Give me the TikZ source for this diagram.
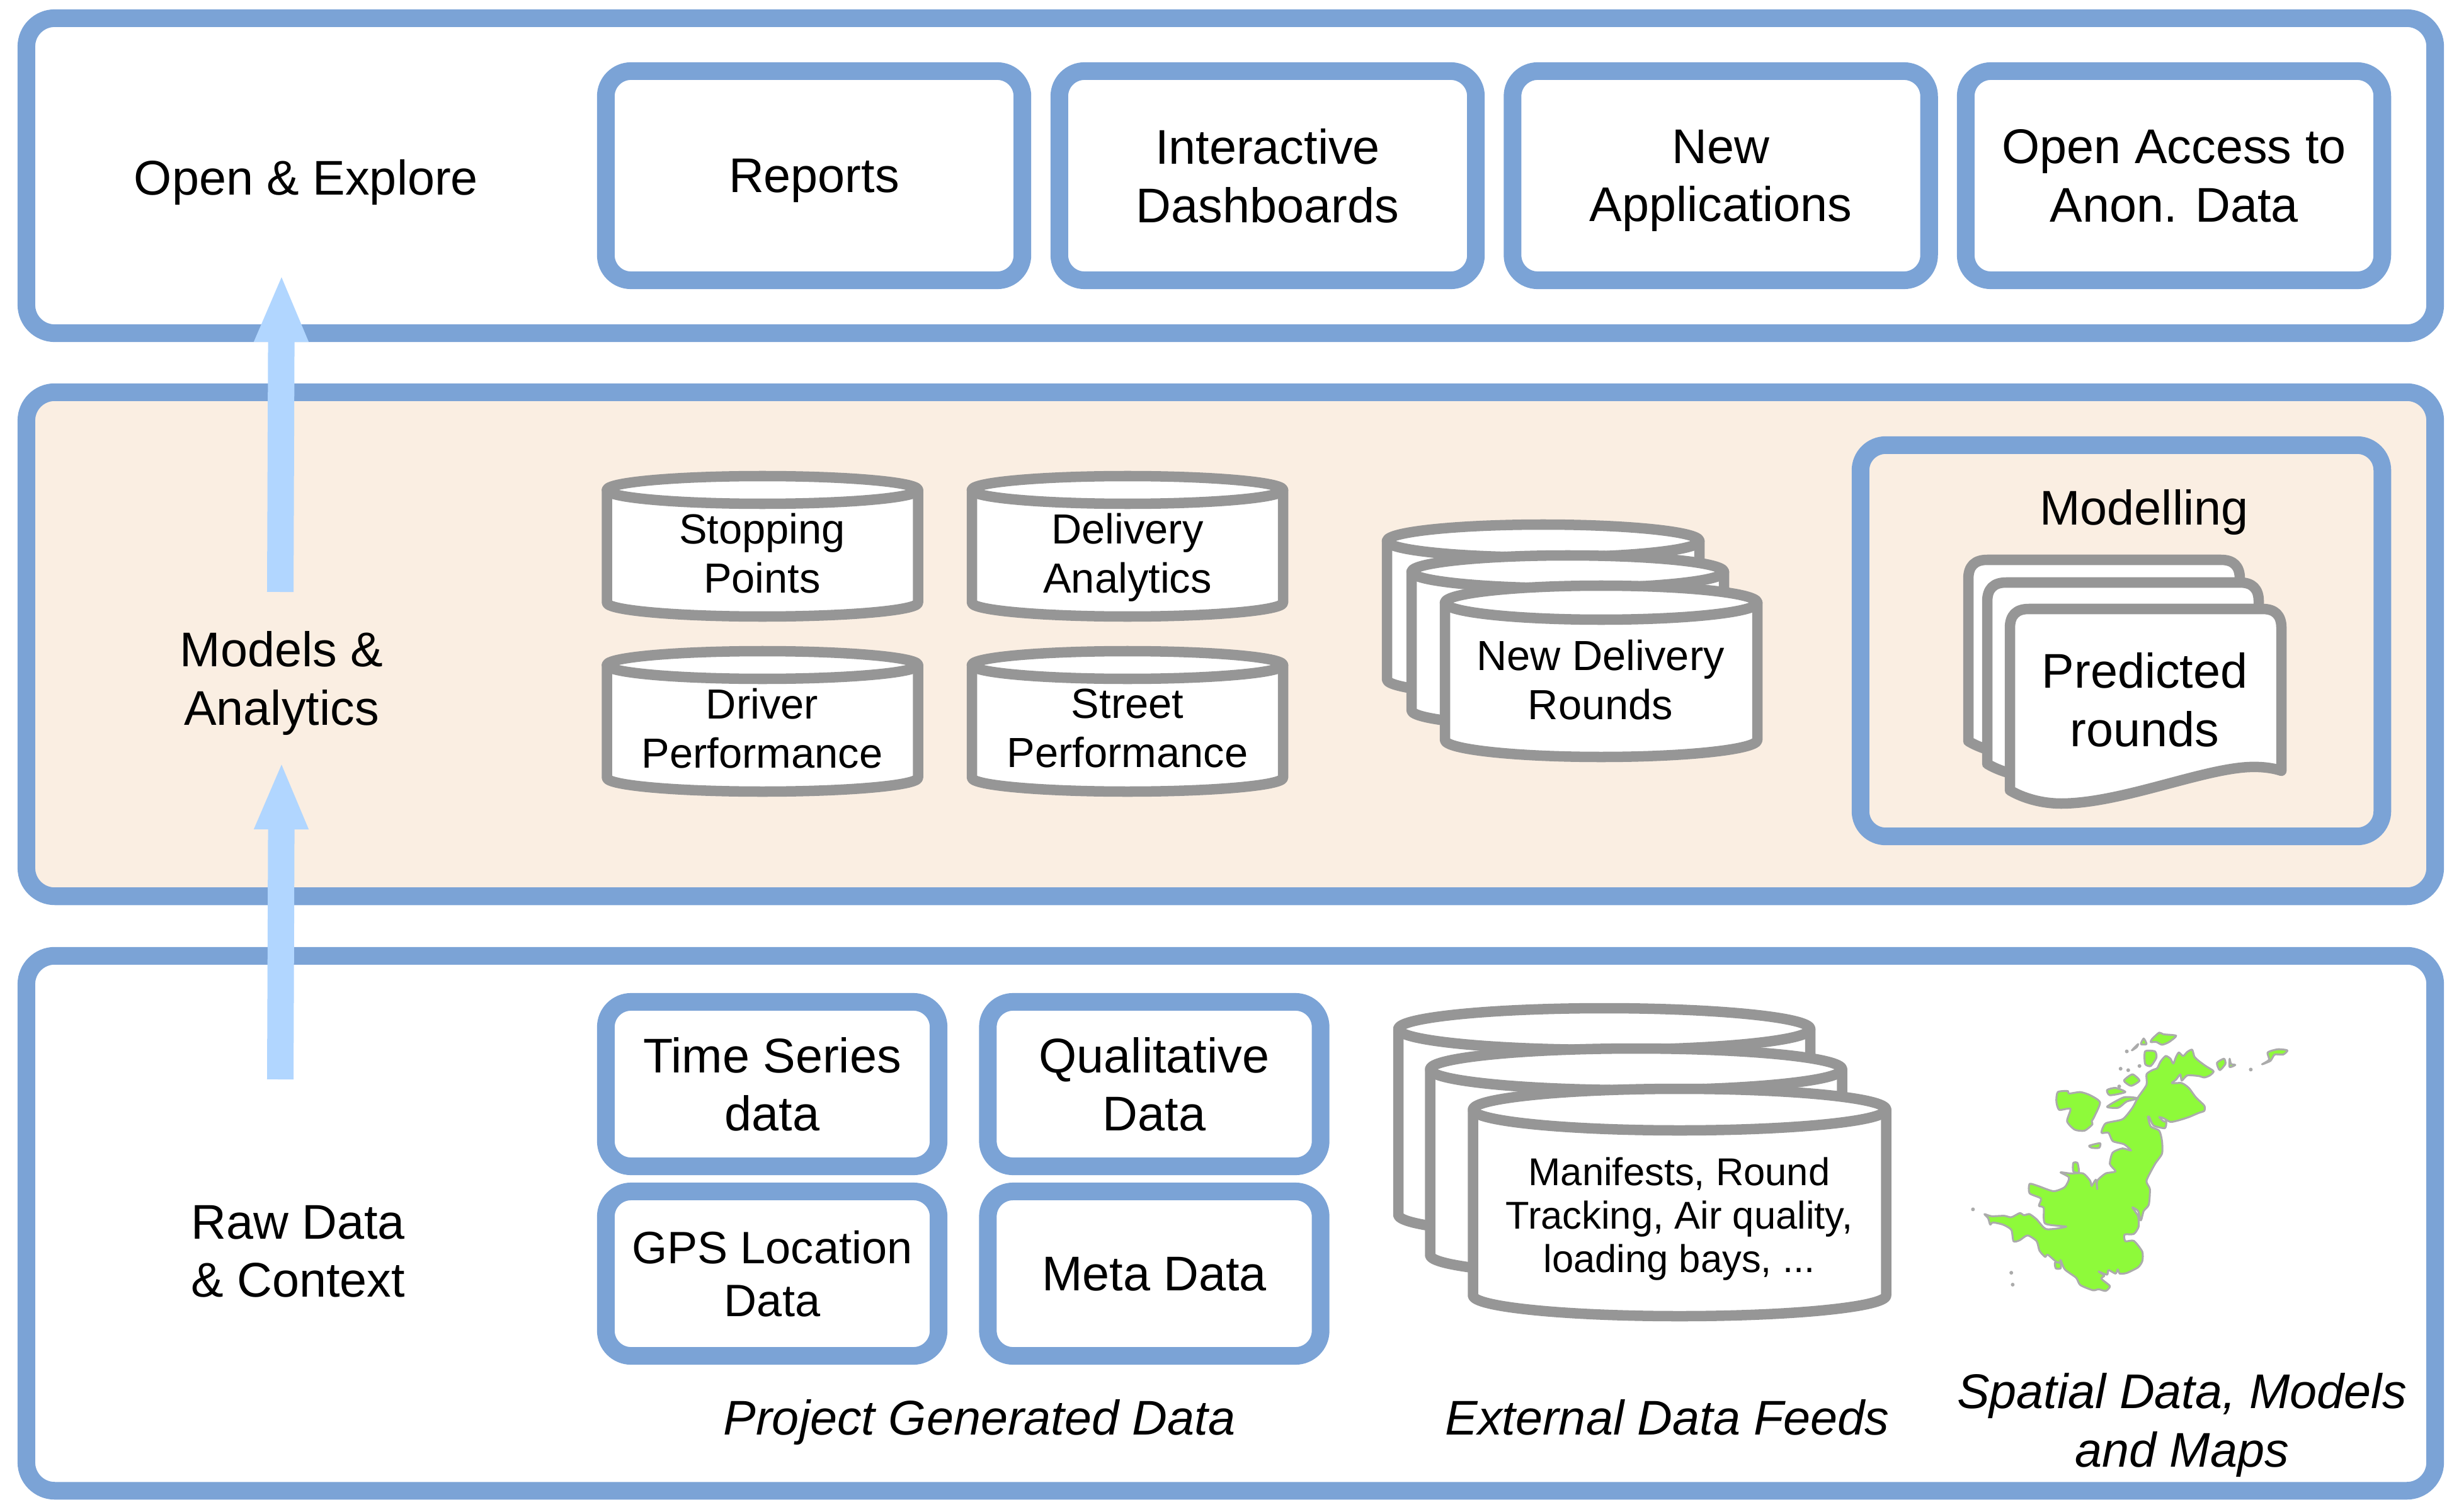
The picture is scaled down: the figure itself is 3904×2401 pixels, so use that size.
\documentclass[tikz,border=0pt]{standalone}
\usepackage{fontspec}
\usepackage{tikz}
\usetikzlibrary{arrows.meta}
\setmainfont{Liberation Sans}
\definecolor{panelblue}{HTML}{7BA3D6}
\definecolor{arrowblue}{HTML}{B1D6FF}
\definecolor{modelfill}{HTML}{FAEEE2}
\definecolor{drumgray}{HTML}{969696}
\definecolor{mapgreen}{HTML}{8EFA3A}
\definecolor{mapgray}{HTML}{ABABAB}
\tikzset{
  panel/.style={draw=panelblue, line width=0.28cm, rounded corners=0.45cm, inner sep=0pt},
  bigtext/.style={align=center, text depth=0pt, font=\fontsize{22}{26.2}\selectfont},
  box/.style={panel, fill=white, bigtext, rounded corners=0.4cm},
  smalltext/.style={align=center, text depth=0pt, font=\fontsize{19}{22.2}\selectfont},
  drumline/.style={draw=drumgray, fill=white, line width=0.165cm, line join=round},
  mapline/.style={draw=mapgray, fill=mapgreen, line width=0.03cm, line join=round},
  uparrow/.style={draw=arrowblue, line width=0.42cm, -{Triangle[width=0.78cm,length=1.08cm]}}
}
\begin{document}
\begin{tikzpicture}[x=0.01cm, y=-0.01cm]
  \newcommand{\Drum}[5]{%
    \begin{scope}[shift={(#1,#2)}]
      \draw[drumline] (-#3,#5) -- (-#3,{#4-#5}) arc[start angle=180, end angle=0, x radius=#3, y radius=#5] -- (#3,#5) -- cycle;
      \draw[drumline] (0,#5) ellipse [x radius=#3, y radius=#5];
    \end{scope}
  }
  \newcommand{\Sheet}[2]{%
    \draw[drumline, shift={(#1,#2)}] (0,288) -- (0,30) .. controls (0,10) and (10,0) .. (30,0) -- (401,0)
      .. controls (421,0) and (431,10) .. (431,30) -- (431,257)
      .. controls (410,250) and (385,250) .. (367,252)
      .. controls (290,260) and (170,309) .. (81,309)
      .. controls (50,309) and (20,300) .. (0,288) -- cycle;
  }
  \useasboundingbox (0,0) rectangle (3904,2401);

  % three layers
  \node[panel, minimum width=38.22cm, minimum height=5cm] (openpanel) at (1954,279) {};
  \node[panel, fill=modelfill, minimum width=38.22cm, minimum height=8cm] (modelpanel) at (1954,1023) {};
  \node[panel, minimum width=38.22cm, minimum height=8.49cm] (rawpanel) at (1954,1942.5) {};

  \node[bigtext] (openlabel) at (486,281) {Open \& Explore};
  \node[bigtext] (modellabel) at (447,1077) {Models \&\\Analytics};
  \node[bigtext] (rawlabel) at (473,1987) {Raw Data\\\& Context};

  \coordinate (rawtail) at (445,1714);
  \coordinate (modelhead) at (447,1209);
  \coordinate (modeltail) at (445,940);
  \coordinate (openhead) at (447,435);
  \draw[uparrow] (rawtail) -- (modelhead);
  \draw[uparrow] (modeltail) -- (openhead);

  % top row
  \foreach \name/\cx/\txt in {reports/1292.5/Reports,
      dashboards/2012.5/{Interactive\\Dashboards},
      newapps/2732/{New\\Applications},
      anondata/3451.5/{Open Access to\\Anon. Data}}
    \node[box, minimum width=6.61cm, minimum height=3.32cm] (\name) at (\cx,279) {\txt};

  % drums in the middle layer
  \Drum{1210.5}{756}{247}{223}{22}
  \node[smalltext] (stopping) at (1210,878) {Stopping\\Points};
  \Drum{1790}{756}{247}{223}{22}
  \node[smalltext] (delivery) at (1790,878) {Delivery\\Analytics};
  \Drum{1210.5}{1034}{247}{223}{22}
  \node[smalltext] (driver) at (1210,1156) {Driver\\Performance};
  \Drum{1790}{1034}{247}{223}{22}
  \node[smalltext] (street) at (1790,1156) {Street\\Performance};

  \Drum{2450}{833}{248}{272}{26}
  \Drum{2489}{882}{248}{272}{26}
  \Drum{2542}{930}{248}{272}{27}
  \node[smalltext] (newrounds) at (2541,1079) {New Delivery\\Rounds};

  % modelling box
  \node[panel, rounded corners=0.4cm, minimum width=8.28cm, minimum height=6.21cm] (modelling) at (3368,1017.5) {};
  \node[bigtext] (modeltitle) at (3404,805) {Modelling};
  \Sheet{3125}{889}
  \Sheet{3155}{925}
  \Sheet{3191}{967}
  \node[bigtext] (predicted) at (3405,1111) {Predicted\\rounds};

  % bottom layer
  \node[box, minimum width=5.28cm, minimum height=2.61cm] (timeseries) at (1226,1721.5) {Time Series\\data};
  \node[box, minimum width=5.28cm, minimum height=2.61cm] (qualitative) at (1832.5,1721.5) {Qualitative\\Data};
  \node[box, minimum width=5.28cm, minimum height=2.61cm, font=\fontsize{20.5}{23.9}\selectfont] (gps) at (1226,2022.5) {GPS Location\\Data};
  \node[box, minimum width=5.28cm, minimum height=2.61cm] (metadata) at (1832.5,2022.5) {Meta Data};

  \Drum{2547}{1601}{327}{361}{33}
  \Drum{2597.5}{1665}{327}{361}{33}
  \Drum{2666.5}{1729}{328}{361}{33}
  \node[align=center, text depth=0pt, font=\fontsize{17.5}{19.6}\selectfont] (feeds) at (2666,1929) {Manifests, Round\\Tracking, Air quality,\\loading bays, ...};

  \node[bigtext, font=\fontsize{22}{26.2}\selectfont\itshape] (projectcap) at (1555,2250) {Project Generated Data};
  \node[bigtext, font=\fontsize{22}{26.2}\selectfont\itshape] (externalcap) at (2647,2250) {External Data Feeds};
  \node[bigtext, font=\fontsize{22}{26.2}\selectfont\itshape] (spatialcap) at (3464,2255) {Spatial Data, Models\\and Maps};

  % map, traced at the zoom of the crop
  \begin{scope}[shift={(3050,1600)}, x=0.004464cm, y=-0.003317cm]
    \draw[mapline] plot[smooth cycle, tension=0.4] coordinates {
      (800,320) (820,300) (838,290) (850,258) (868,232) (885,245) (895,268) (905,235) (915,215) (930,232)
      (945,212) (962,202) (970,235) (985,255) (1010,280) (1038,305) (1025,325) (1005,335) (985,328) (945,325)
      (925,350) (920,320) (905,345) (890,362) (925,362) (950,385) (975,430) (1005,470) (1005,495) (985,505)
      (950,525) (915,540) (885,548) (860,530) (845,525) (860,545) (870,548) (865,578) (825,565) (810,525)
      (805,525) (815,570) (845,590) (855,640) (855,700) (830,750) (800,830) (812,870) (808,945) (790,975)
      (780,1020) (770,975) (750,958) (770,1000) (772,1050) (755,1085) (722,1088) (725,1120) (755,1118) (785,1170)
      (785,1215) (770,1245) (730,1272) (705,1275) (698,1255) (690,1275) (665,1258) (660,1280) (630,1265) (650,1285)
      (640,1300) (670,1335) (655,1358) (630,1350) (610,1355) (565,1330) (550,1295) (510,1255) (495,1210) (490,1230)
      (450,1185) (440,1195) (420,1165) (410,1120) (378,1092) (350,1115) (328,1120) (320,1065) (290,1040) (255,1030)
      (245,1040) (238,1010) (225,990) (250,1000) (295,998) (320,1005) (350,985) (365,995) (385,990) (410,1015)
      (445,1062) (515,1050) (440,1035) (435,960) (418,950) (425,915) (385,890) (385,845) (415,855) (470,880)
      (510,860) (525,815) (495,790) (530,795) (575,795) (600,830) (605,855) (620,825) (625,870) (625,830)
      (655,795) (690,785) (670,750) (680,695) (715,675) (745,685) (720,655) (680,640) (665,600) (640,600)
      (655,555) (715,535) (750,480) (770,430) (800,370)};
    \draw[mapline] plot[smooth cycle, tension=0.4] coordinates {
      (485,405) (520,400) (525,412) (565,405) (600,420) (635,455) (612,530) (605,545) (608,560) (580,590)
      (545,585) (518,545) (530,485) (490,490) (480,450)};
    \draw[mapline] plot[smooth cycle, tension=0.4] coordinates {(597,662) (635,650) (632,672) (605,672)};
    \draw[mapline] plot[smooth cycle, tension=0.4] coordinates {(540,745) (555,745) (560,790) (540,785)};
    \draw[mapline] plot[smooth cycle, tension=0.4] coordinates {(475,1222) (495,1225) (495,1250) (478,1250)};
    \draw[mapline] plot[smooth cycle, tension=0.4] coordinates {(845,120) (860,128) (905,135) (880,165) (855,178) (835,165) (815,165) (820,150)};
    \draw[mapline] plot[smooth cycle, tension=0.4] coordinates {(780,175) (790,148) (800,175)};
    \draw[mapline] plot[smooth cycle, tension=0.4] coordinates {(748,205) (770,175) (765,190)};
    \draw[mapline] plot[smooth cycle, tension=0.4] coordinates {(795,210) (830,210) (835,240) (815,280) (795,270)};
    \draw[mapline] plot[smooth cycle, tension=0.4] coordinates {(720,350) (750,320) (775,350) (745,375)};
    \draw[mapline] plot[smooth cycle, tension=0.4] coordinates {(660,395) (690,385) (725,405) (670,420)};
    \draw[mapline] plot[smooth cycle, tension=0.4] coordinates {(660,475) (720,430) (770,435) (730,450) (700,480)};
    \draw[mapline] plot[smooth cycle, tension=0.4] coordinates {(1050,265) (1075,245) (1080,270) (1060,300)};
    \draw[mapline] plot[smooth cycle, tension=0.4] coordinates {(1095,245) (1100,270) (1115,275) (1095,285)};
    \draw[mapline] plot[smooth cycle, tension=0.4] coordinates {(1210,272) (1235,250) (1230,215) (1265,200) (1300,205) (1285,225) (1255,225) (1240,255)};
    \foreach \dotx/\doty in {1170/297, 184/967, 320/1271, 325/1328, 708/293, 735/300, 775/280, 703/378, 730/210}
      \fill[mapgray] (\dotx,\doty) circle [radius=0.03cm];
  \end{scope}
\end{tikzpicture}
\end{document}
